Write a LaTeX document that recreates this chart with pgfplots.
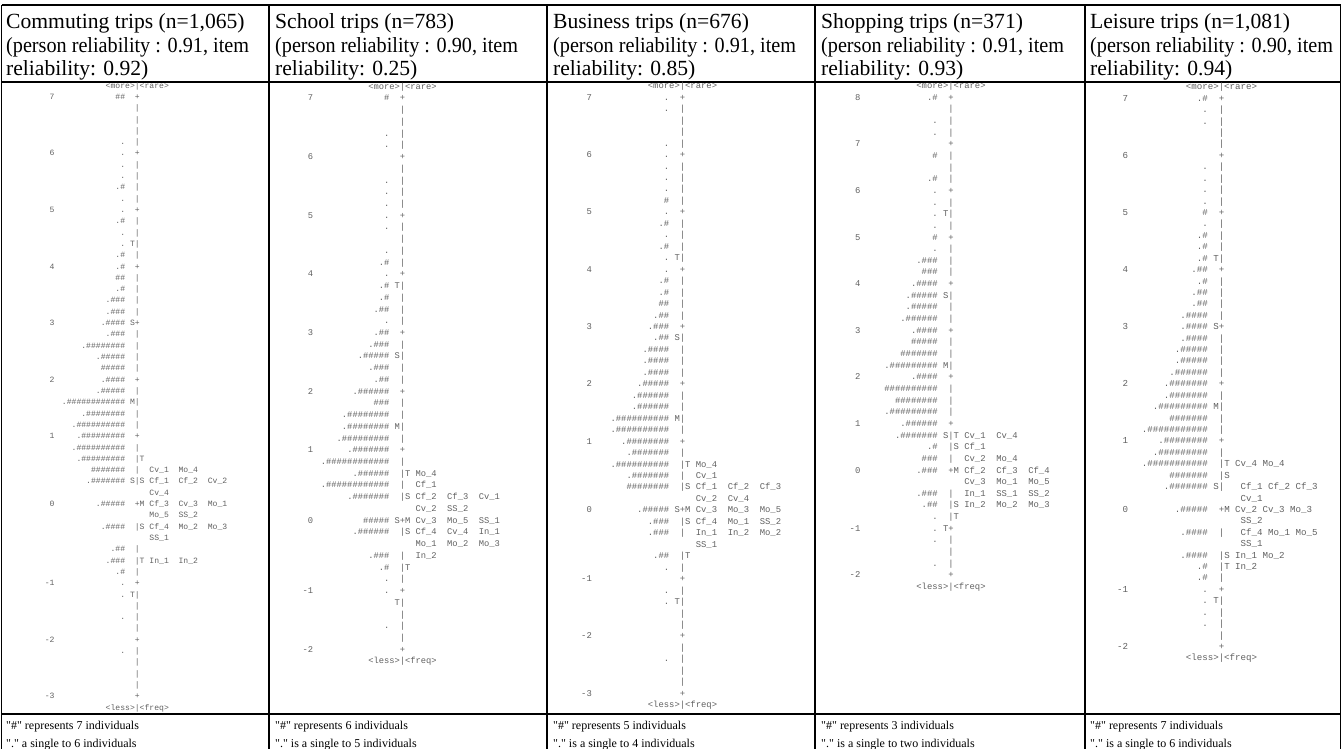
\documentclass[border=0pt]{standalone}
\usepackage{pgfplots}
\pgfplotsset{compat=1.18}
\usepackage{fontspec}
\setmainfont{Liberation Serif}
\newfontfamily\mono{Liberation Mono}
\chardef\us=95
\newcommand\hs[1]{\ifnum#1>0 \#\hs{\numexpr#1-1\relax}\fi}
\definecolor{ink}{gray}{0.38}
\newcommand\hdr{\fontsize{21.6}{21.6}\selectfont}
\newcommand\ftr{\fontsize{12}{12}\selectfont}
\pgfplotsset{
  wmap/.style n args={5}{%
    x=#2pt, y=#4pt,
    xmin=-20, xmax=18, ymin=-56, ymax=2,
    enlargelimits=false,
    hide axis, clip=false,
    anchor=south west,
    at={({(#1-20*#2)*1pt},{(-#3-56*#4)*1pt})},
    every node near coord/.append style={inner sep=0pt, outer sep=0pt,
      text=ink, font=\mono\fontsize{#5}{#5}\selectfont},
  },
  txt/.style={draw=none, mark=none, nodes near coords,
    point meta=explicit symbolic,
    every node near coord/.append style={anchor=#1}},
  fix/.style 2 args={draw=none, mark=none, nodes near coords={#2},
    every node near coord/.append style={anchor=#1}},
}
\begin{document}
\begin{tikzpicture}[x=1pt,y=1pt]
\path[use as bounding box] (0,0) rectangle (1342,-748);
\begin{scope}[line width=1.1pt]
\draw (1.5,-5) -- (1340.5,-5);
\draw (1.5,-82) -- (1340.5,-82);
\draw (1.5,-714) -- (1340.5,-714);
\foreach \x in {1.5,269,547,815,1085,1340.5} {\draw (\x,-5) -- (\x,-760);}
\end{scope}
% headers
\foreach \x/\a/\b/\c in {
  6/{Commuting trips (n=1,065)}/{(person reliability : 0.91, item}/{reliability: 0.92)},
  275/{School trips (n=783)}/{(person reliability : 0.90, item}/{reliability: 0.25)},
  553/{Business trips (n=676)}/{(person reliability : 0.91, item}/{reliability: 0.85)},
  821/{Shopping trips (n=371)}/{(person reliability : 0.91, item}/{reliability: 0.93)},
  1090/{Leisure trips (n=1,081)}/{(person reliability : 0.90, item}/{reliability: 0.94)}}{
  \node[anchor=base west,font=\hdr,inner sep=0pt] at (\x,-28.5) {\a};
  \node[anchor=base west,font=\hdr,inner sep=0pt,xscale=0.935] at (\x,-52) {\b};
  \node[anchor=base west,font=\hdr,inner sep=0pt] at (\x,-75.5) {\c};
}
% footers
\foreach \x/\a/\b in {
  6/{\textquotedbl\#\textquotedbl\ represents 7 individuals}/{\textquotedbl.\textquotedbl\ a single to 6 individuals},
  275/{\textquotedbl\#\textquotedbl\ represents 6 individuals}/{\textquotedbl.\textquotedbl\ is a single to 5 individuals},
  553/{\textquotedbl\#\textquotedbl\ represents 5 individuals}/{\textquotedbl.\textquotedbl\ is a single to 4 individuals},
  821/{\textquotedbl\#\textquotedbl\ represents 3 individuals}/{\textquotedbl.\textquotedbl\ is a single to two individuals},
  1090/{\textquotedbl\#\textquotedbl\ represents 7 individuals}/{\textquotedbl.\textquotedbl\ is a single to 6 individuals}}{
  \node[anchor=base west,font=\ftr,inner sep=0pt] at (\x,-729) {\a};
  \node[anchor=base west,font=\ftr,inner sep=0pt] at (\x,-747.5) {\b};
}

% ---------------- Commuting ----------------
\begin{axis}[wmap={137.3}{4.87}{99.4}{11.31}{8.1}]
\addplot[fix={base}{|}] coordinates {(0,-1)(0,-2)(0,-3)(0,-4)(0,-6)(0,-7)(0,-8)(0,-9)(0,-11)(0,-12)(0,-13)(0,-14)(0,-16)(0,-17)(0,-18)(0,-19)(0,-21)(0,-22)(0,-23)(0,-24)(0,-26)(0,-27)(0,-28)(0,-29)(0,-31)(0,-32)(0,-33)(0,-34)(0,-38)(0,-40)(0,-41)(0,-42)(0,-44)(0,-45)(0,-46)(0,-47)(0,-49)(0,-50)(0,-51)(0,-52)};
\addplot[fix={base}{+}] coordinates {(0,0)(0,-5)(0,-10)(0,-15)(0,-20)(0,-25)(0,-30)(0,-36)(0,-43)(0,-48)(0,-53)};
\addplot[txt=base] coordinates {(0,1)[<more>|<rare>] (0,-54)[<less>|<freq>]
 (-1,-13)[T] (-1,-20)[S] (-1,-27)[M] (-1,-34)[S] (-1,-44)[T]
 (1,-32)[T] (1,-34)[S] (1,-36)[M] (1,-38)[S] (1,-41)[T]};
\addplot[txt=base east] coordinates {(-17,0)[7] (-17,-5)[6] (-17,-10)[5] (-17,-15)[4] (-17,-20)[3] (-17,-25)[2] (-17,-30)[1] (-17,-36)[0] (-17,-43)[-1] (-17,-48)[-2] (-17,-53)[-3]};
\addplot[txt=base east] coordinates {
 (-2.5,0)[\hs{2}] (-2.5,-4)[.] (-2.5,-5)[.] (-2.5,-6)[.] (-2.5,-7)[.] (-2.5,-8)[.\hs{1}]
 (-2.5,-9)[.] (-2.5,-10)[.] (-2.5,-11)[.\hs{1}] (-2.5,-12)[.] (-2.5,-13)[.] (-2.5,-14)[.\hs{1}]
 (-2.5,-15)[.\hs{1}] (-2.5,-16)[\hs{2}] (-2.5,-17)[.\hs{1}] (-2.5,-18)[.\hs{3}] (-2.5,-19)[.\hs{3}]
 (-2.5,-20)[.\hs{4}] (-2.5,-21)[.\hs{3}] (-2.5,-22)[.\hs{8}] (-2.5,-23)[.\hs{5}] (-2.5,-24)[\hs{5}]
 (-2.5,-25)[.\hs{4}] (-2.5,-26)[.\hs{5}] (-2.5,-27)[.\hs{12}] (-2.5,-28)[.\hs{8}] (-2.5,-29)[.\hs{10}]
 (-2.5,-30)[.\hs{9}] (-2.5,-31)[.\hs{10}] (-2.5,-32)[.\hs{9}] (-2.5,-33)[\hs{7}] (-2.5,-34)[.\hs{7}]
 (-2.5,-36)[.\hs{5}] (-2.5,-38)[.\hs{4}] (-2.5,-40)[.\hs{2}] (-2.5,-41)[.\hs{3}] (-2.5,-42)[.\hs{1}]
 (-2.5,-43)[.] (-2.5,-44)[.] (-2.5,-46)[.] (-2.5,-49)[.]};
\addplot[txt=base west] coordinates {
 (2.5,-33)[Cv\us1\ \ Mo\us4] (2.5,-34)[Cf\us1\ \ Cf\us2\ \ Cv\us2] (2.5,-35)[Cv\us4]
 (2.5,-36)[Cf\us3\ \ Cv\us3\ \ Mo\us1] (2.5,-37)[Mo\us5\ \ SS\us2]
 (2.5,-38)[Cf\us4\ \ Mo\us2\ \ Mo\us3] (2.5,-39)[SS\us1] (2.5,-41)[In\us1\ \ In\us2]};
\end{axis}

% ---------------- School ----------------
\begin{axis}[wmap={402.5}{5.26}{100.9}{11.73}{8.77}]
\addplot[fix={base}{|}] coordinates {(0,-1)(0,-2)(0,-3)(0,-4)(0,-6)(0,-7)(0,-8)(0,-9)(0,-11)(0,-12)(0,-13)(0,-14)(0,-16)(0,-17)(0,-18)(0,-19)(0,-21)(0,-22)(0,-23)(0,-24)(0,-26)(0,-27)(0,-28)(0,-29)(0,-31)(0,-32)(0,-33)(0,-34)(0,-37)(0,-39)(0,-40)(0,-41)(0,-43)(0,-44)(0,-45)(0,-46)};
\addplot[fix={base}{+}] coordinates {(0,0)(0,-5)(0,-10)(0,-15)(0,-20)(0,-25)(0,-30)(0,-36)(0,-42)(0,-47)};
\addplot[txt=base] coordinates {(0,1)[<more>|<rare>] (0,-48)[<less>|<freq>]
 (-1,-16)[T] (-1,-22)[S] (-1,-28)[M] (-1,-36)[S] (-1,-43)[T]
 (1,-32)[T] (1,-34)[S] (1,-36)[M] (1,-37)[S] (1,-40)[T]};
\addplot[txt=base east] coordinates {(-17,0)[7] (-17,-5)[6] (-17,-10)[5] (-17,-15)[4] (-17,-20)[3] (-17,-25)[2] (-17,-30)[1] (-17,-36)[0] (-17,-42)[-1] (-17,-47)[-2]};
\addplot[txt=base east] coordinates {
 (-2.5,0)[\hs{1}] (-2.5,-3)[.] (-2.5,-4)[.] (-2.5,-7)[.] (-2.5,-8)[.] (-2.5,-9)[.]
 (-2.5,-10)[.] (-2.5,-11)[.] (-2.5,-13)[.] (-2.5,-14)[.\hs{1}] (-2.5,-15)[.]
 (-2.5,-16)[.\hs{1}] (-2.5,-17)[.\hs{1}] (-2.5,-18)[.\hs{2}] (-2.5,-19)[.] (-2.5,-20)[.\hs{2}]
 (-2.5,-21)[.\hs{3}] (-2.5,-22)[.\hs{5}] (-2.5,-23)[.\hs{3}] (-2.5,-24)[.\hs{2}] (-2.5,-25)[.\hs{6}]
 (-2.5,-26)[\hs{3}] (-2.5,-27)[.\hs{8}] (-2.5,-28)[.\hs{8}] (-2.5,-29)[.\hs{9}] (-2.5,-30)[.\hs{7}]
 (-2.5,-31)[.\hs{12}] (-2.5,-32)[.\hs{6}] (-2.5,-33)[.\hs{12}] (-2.5,-34)[.\hs{7}]
 (-2.5,-36)[\hs{5}] (-2.5,-37)[.\hs{6}] (-2.5,-39)[.\hs{3}] (-2.5,-40)[.\hs{1}]
 (-2.5,-41)[.] (-2.5,-42)[.] (-2.5,-45)[.]};
\addplot[txt=base west] coordinates {
 (2.5,-32)[Mo\us4] (2.5,-33)[Cf\us1] (2.5,-34)[Cf\us2\ \ Cf\us3\ \ Cv\us1] (2.5,-35)[Cv\us2\ \ SS\us2]
 (2.5,-36)[Cv\us3\ \ Mo\us5\ \ SS\us1] (2.5,-37)[Cf\us4\ \ Cv\us4\ \ In\us1]
 (2.5,-38)[Mo\us1\ \ Mo\us2\ \ Mo\us3] (2.5,-39)[In\us2]};
\end{axis}

% ---------------- Business ----------------
\begin{axis}[wmap={682.5}{5.33}{100.3}{11.46}{8.88}]
\addplot[fix={base}{|}] coordinates {(0,-1)(0,-2)(0,-3)(0,-4)(0,-6)(0,-7)(0,-8)(0,-9)(0,-11)(0,-12)(0,-13)(0,-14)(0,-16)(0,-17)(0,-18)(0,-19)(0,-21)(0,-22)(0,-23)(0,-24)(0,-26)(0,-27)(0,-28)(0,-29)(0,-31)(0,-32)(0,-33)(0,-34)(0,-37)(0,-38)(0,-40)(0,-41)(0,-43)(0,-44)(0,-45)(0,-46)(0,-48)(0,-49)(0,-50)(0,-51)};
\addplot[fix={base}{+}] coordinates {(0,0)(0,-5)(0,-10)(0,-15)(0,-20)(0,-25)(0,-30)(0,-36)(0,-42)(0,-47)(0,-52)};
\addplot[txt=base] coordinates {(0,1)[<more>|<rare>] (0,-53)[<less>|<freq>]
 (-1,-14)[T] (-1,-21)[S] (-1,-28)[M] (-1,-36)[S] (-1,-44)[T]
 (1,-32)[T] (1,-34)[S] (1,-36)[M] (1,-37)[S] (1,-40)[T]};
\addplot[txt=base east] coordinates {(-17,0)[7] (-17,-5)[6] (-17,-10)[5] (-17,-15)[4] (-17,-20)[3] (-17,-25)[2] (-17,-30)[1] (-17,-36)[0] (-17,-42)[-1] (-17,-47)[-2] (-17,-52)[-3]};
\addplot[txt=base east] coordinates {
 (-2.5,0)[.] (-2.5,-1)[.] (-2.5,-4)[.] (-2.5,-5)[.] (-2.5,-6)[.] (-2.5,-7)[.] (-2.5,-8)[.]
 (-2.5,-9)[\hs{1}] (-2.5,-10)[.] (-2.5,-11)[.\hs{1}] (-2.5,-12)[.] (-2.5,-13)[.\hs{1}] (-2.5,-14)[.]
 (-2.5,-15)[.] (-2.5,-16)[.\hs{1}] (-2.5,-17)[.\hs{1}] (-2.5,-18)[\hs{2}] (-2.5,-19)[.\hs{2}]
 (-2.5,-20)[.\hs{3}] (-2.5,-21)[.\hs{2}] (-2.5,-22)[.\hs{4}] (-2.5,-23)[.\hs{4}] (-2.5,-24)[.\hs{4}]
 (-2.5,-25)[.\hs{5}] (-2.5,-26)[.\hs{6}] (-2.5,-27)[.\hs{6}] (-2.5,-28)[.\hs{10}] (-2.5,-29)[.\hs{10}]
 (-2.5,-30)[.\hs{8}] (-2.5,-31)[.\hs{7}] (-2.5,-32)[.\hs{10}] (-2.5,-33)[.\hs{7}] (-2.5,-34)[\hs{8}]
 (-2.5,-36)[.\hs{5}] (-2.5,-37)[.\hs{3}] (-2.5,-38)[.\hs{3}] (-2.5,-40)[.\hs{2}] (-2.5,-41)[.]
 (-2.5,-43)[.] (-2.5,-44)[.] (-2.5,-49)[.]};
\addplot[txt=base west] coordinates {
 (2.5,-32)[Mo\us4] (2.5,-33)[Cv\us1] (2.5,-34)[Cf\us1\ \ Cf\us2\ \ Cf\us3] (2.5,-35)[Cv\us2\ \ Cv\us4]
 (2.5,-36)[Cv\us3\ \ Mo\us3\ \ Mo\us5] (2.5,-37)[Cf\us4\ \ Mo\us1\ \ SS\us2]
 (2.5,-38)[In\us1\ \ In\us2\ \ Mo\us2] (2.5,-39)[SS\us1]};
\end{axis}

% ---------------- Shopping ----------------
\begin{axis}[wmap={951}{5.33}{100.2}{11.65}{8.88}]
\addplot[fix={base}{|}] coordinates {(0,-1)(0,-2)(0,-3)(0,-5)(0,-6)(0,-7)(0,-9)(0,-10)(0,-11)(0,-13)(0,-14)(0,-15)(0,-17)(0,-18)(0,-19)(0,-21)(0,-22)(0,-23)(0,-25)(0,-26)(0,-27)(0,-29)(0,-30)(0,-31)(0,-34)(0,-35)(0,-36)(0,-38)(0,-39)(0,-40)};
\addplot[fix={base}{+}] coordinates {(0,0)(0,-4)(0,-8)(0,-12)(0,-16)(0,-20)(0,-24)(0,-28)(0,-32)(0,-37)(0,-41)};
\addplot[txt=base] coordinates {(0,1)[<more>|<rare>] (0,-42)[<less>|<freq>]
 (-1,-10)[T] (-1,-17)[S] (-1,-23)[M] (-1,-29)[S] (-1,-37)[T]
 (1,-29)[T] (1,-30)[S] (1,-32)[M] (1,-35)[S] (1,-36)[T]};
\addplot[txt=base east] coordinates {(-17,0)[8] (-17,-4)[7] (-17,-8)[6] (-17,-12)[5] (-17,-16)[4] (-17,-20)[3] (-17,-24)[2] (-17,-28)[1] (-17,-32)[0] (-17,-37)[-1] (-17,-41)[-2]};
\addplot[txt=base east] coordinates {
 (-2.5,0)[.\hs{1}] (-2.5,-2)[.] (-2.5,-3)[.] (-2.5,-5)[\hs{1}] (-2.5,-7)[.\hs{1}] (-2.5,-8)[.]
 (-2.5,-9)[.] (-2.5,-10)[.] (-2.5,-11)[.] (-2.5,-12)[\hs{1}] (-2.5,-13)[.] (-2.5,-14)[.\hs{3}]
 (-2.5,-15)[\hs{3}] (-2.5,-16)[.\hs{4}] (-2.5,-17)[.\hs{5}] (-2.5,-18)[.\hs{5}] (-2.5,-19)[.\hs{6}]
 (-2.5,-20)[.\hs{4}] (-2.5,-21)[\hs{5}] (-2.5,-22)[\hs{7}] (-2.5,-23)[.\hs{9}] (-2.5,-24)[.\hs{4}]
 (-2.5,-25)[\hs{10}] (-2.5,-26)[\hs{8}] (-2.5,-27)[.\hs{9}] (-2.5,-28)[.\hs{6}] (-2.5,-29)[.\hs{7}]
 (-2.5,-30)[.\hs{1}] (-2.5,-31)[\hs{3}] (-2.5,-32)[.\hs{3}] (-2.5,-34)[.\hs{3}] (-2.5,-35)[.\hs{2}]
 (-2.5,-36)[.] (-2.5,-37)[.] (-2.5,-38)[.] (-2.5,-40)[.]};
\addplot[txt=base west] coordinates {
 (2.5,-29)[Cv\us1\ \ Cv\us4] (2.5,-30)[Cf\us1] (2.5,-31)[Cv\us2\ \ Mo\us4]
 (2.5,-32)[Cf\us2\ \ Cf\us3\ \ Cf\us4] (2.5,-33)[Cv\us3\ \ Mo\us1\ \ Mo\us5]
 (2.5,-34)[In\us1\ \ SS\us1\ \ SS\us2] (2.5,-35)[In\us2\ \ Mo\us2\ \ Mo\us3]};
\end{axis}

% ---------------- Leisure ----------------
\begin{axis}[wmap={1221.5}{5.49}{101.3}{11.42}{9.15}]
\addplot[fix={base}{|}] coordinates {(0,-1)(0,-2)(0,-3)(0,-4)(0,-6)(0,-7)(0,-8)(0,-9)(0,-11)(0,-12)(0,-13)(0,-14)(0,-16)(0,-17)(0,-18)(0,-19)(0,-21)(0,-22)(0,-23)(0,-24)(0,-26)(0,-27)(0,-28)(0,-29)(0,-31)(0,-32)(0,-33)(0,-34)(0,-38)(0,-40)(0,-41)(0,-42)(0,-44)(0,-45)(0,-46)(0,-47)};
\addplot[fix={base}{+}] coordinates {(0,0)(0,-5)(0,-10)(0,-15)(0,-20)(0,-25)(0,-30)(0,-36)(0,-43)(0,-48)};
\addplot[txt=base] coordinates {(0,1)[<more>|<rare>] (0,-49)[<less>|<freq>]
 (-1,-14)[T] (-1,-20)[S] (-1,-27)[M] (-1,-34)[S] (-1,-44)[T]
 (1,-32)[T] (1,-33)[S] (1,-36)[M] (1,-40)[S] (1,-41)[T]};
\addplot[txt=base east] coordinates {(-17,0)[7] (-17,-5)[6] (-17,-10)[5] (-17,-15)[4] (-17,-20)[3] (-17,-25)[2] (-17,-30)[1] (-17,-36)[0] (-17,-43)[-1] (-17,-48)[-2]};
\addplot[txt=base east] coordinates {
 (-2.5,0)[.\hs{1}] (-2.5,-1)[.] (-2.5,-2)[.] (-2.5,-6)[.] (-2.5,-7)[.] (-2.5,-8)[.] (-2.5,-9)[.]
 (-2.5,-10)[\hs{1}] (-2.5,-11)[.] (-2.5,-12)[.\hs{1}] (-2.5,-13)[.\hs{1}] (-2.5,-14)[.\hs{1}]
 (-2.5,-15)[.\hs{2}] (-2.5,-16)[.\hs{1}] (-2.5,-17)[.\hs{2}] (-2.5,-18)[.\hs{2}] (-2.5,-19)[.\hs{4}]
 (-2.5,-20)[.\hs{4}] (-2.5,-21)[.\hs{4}] (-2.5,-22)[.\hs{5}] (-2.5,-23)[.\hs{5}] (-2.5,-24)[.\hs{6}]
 (-2.5,-25)[.\hs{7}] (-2.5,-26)[.\hs{7}] (-2.5,-27)[.\hs{9}] (-2.5,-28)[\hs{7}] (-2.5,-29)[.\hs{11}]
 (-2.5,-30)[.\hs{8}] (-2.5,-31)[.\hs{9}] (-2.5,-32)[.\hs{11}] (-2.5,-33)[\hs{7}] (-2.5,-34)[.\hs{7}]
 (-2.5,-36)[.\hs{5}] (-2.5,-38)[.\hs{4}] (-2.5,-40)[.\hs{4}] (-2.5,-41)[.\hs{1}] (-2.5,-42)[.\hs{1}]
 (-2.5,-43)[.] (-2.5,-44)[.] (-2.5,-45)[.] (-2.5,-46)[.]};
\addplot[txt=base west] coordinates {
 (2.5,-32)[Cv\us4\ Mo\us4] (3.5,-34)[Cf\us1\ Cf\us2\ Cf\us3] (3.5,-35)[Cv\us1]
 (2.5,-36)[Cv\us2\ Cv\us3\ Mo\us3] (3.5,-37)[SS\us2] (3.5,-38)[Cf\us4\ Mo\us1\ Mo\us5]
 (3.5,-39)[SS\us1] (2.5,-40)[In\us1\ Mo\us2] (2.5,-41)[In\us2]};
\end{axis}
\end{tikzpicture}
\end{document}
